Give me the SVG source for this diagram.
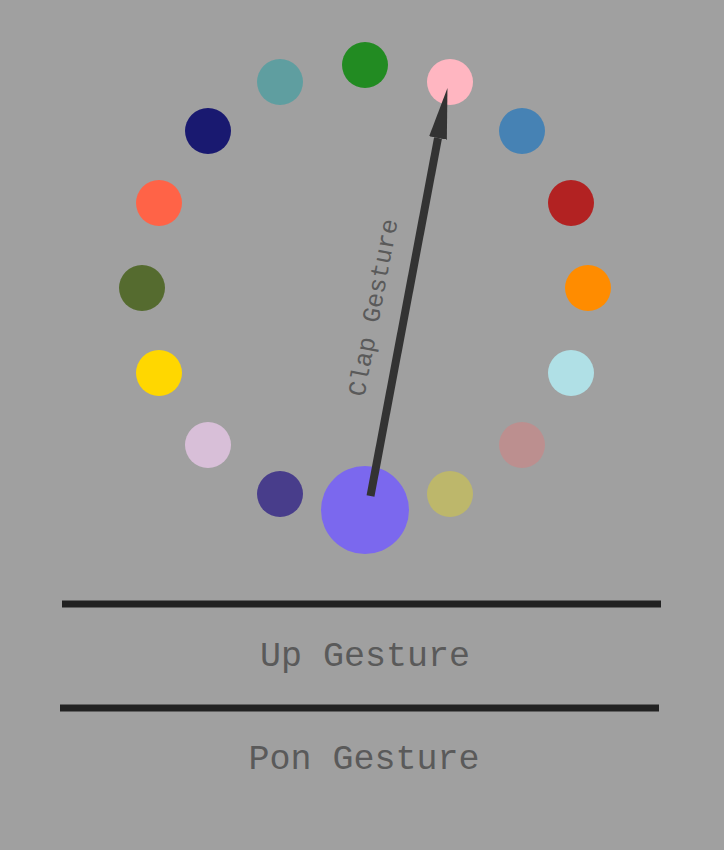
<svg xmlns="http://www.w3.org/2000/svg" width="724" height="850" viewBox="0 0 724 850">
<style>
.dot{stroke:none}
.lbl{font-family:"Liberation Mono","Courier New",monospace;fill:#5a5a5a}
.bar{stroke:#222;stroke-width:7}
</style>
<defs>
<marker id="ah" markerUnits="userSpaceOnUse" markerWidth="52" markerHeight="20" refX="0" refY="9" orient="auto" viewBox="0 0 52 18">
<path d="M0,0 L51,9 L0,18 z" fill="#333"/>
</marker>
</defs>
<rect width="724" height="850" fill="#a0a0a0"/>
<g id="n0"><circle class="dot" cx="365" cy="65" r="23" fill="#228B22"/></g>
<g id="n1"><circle class="dot" cx="450" cy="82" r="23" fill="#FFB6C1"/></g>
<g id="n2"><circle class="dot" cx="522" cy="131" r="23" fill="#4682B4"/></g>
<g id="n3"><circle class="dot" cx="571" cy="203" r="23" fill="#B22222"/></g>
<g id="n4"><circle class="dot" cx="588" cy="288" r="23" fill="#FF8C00"/></g>
<g id="n5"><circle class="dot" cx="571" cy="373" r="23" fill="#B0E0E6"/></g>
<g id="n6"><circle class="dot" cx="522" cy="445" r="23" fill="#BC8F8F"/></g>
<g id="n7"><circle class="dot" cx="450" cy="494" r="23" fill="#BDB76B"/></g>
<g id="n8"><circle class="dot" cx="365" cy="510" r="44" fill="#7B68EE"/></g>
<g id="n9"><circle class="dot" cx="280" cy="494" r="23" fill="#483D8B"/></g>
<g id="n10"><circle class="dot" cx="208" cy="445" r="23" fill="#D8BFD8"/></g>
<g id="n11"><circle class="dot" cx="159" cy="373" r="23" fill="#FFD700"/></g>
<g id="n12"><circle class="dot" cx="142" cy="288" r="23" fill="#556B2F"/></g>
<g id="n13"><circle class="dot" cx="159" cy="203" r="23" fill="#FF6347"/></g>
<g id="n14"><circle class="dot" cx="208" cy="131" r="23" fill="#191970"/></g>
<g id="n15"><circle class="dot" cx="280" cy="82" r="23" fill="#5F9EA0"/></g>
<g id="connectors">
<line x1="370.5" y1="496" x2="438" y2="138" stroke="#333" stroke-width="8" marker-end="url(#ah)"/>
<text class="lbl" font-size="25" text-anchor="middle" transform="translate(381,309) rotate(-79.3)">Clap Gesture</text>
</g>
<g id="bars">
<line class="bar" x1="62" y1="604" x2="661" y2="604"/>
<line class="bar" x1="60" y1="708" x2="659" y2="708"/>
</g>
<g id="up"><text class="lbl" x="365" y="666" font-size="35" text-anchor="middle">Up Gesture</text></g>
<g id="pon"><text class="lbl" x="364" y="769" font-size="35" text-anchor="middle">Pon Gesture</text></g>
</svg>
